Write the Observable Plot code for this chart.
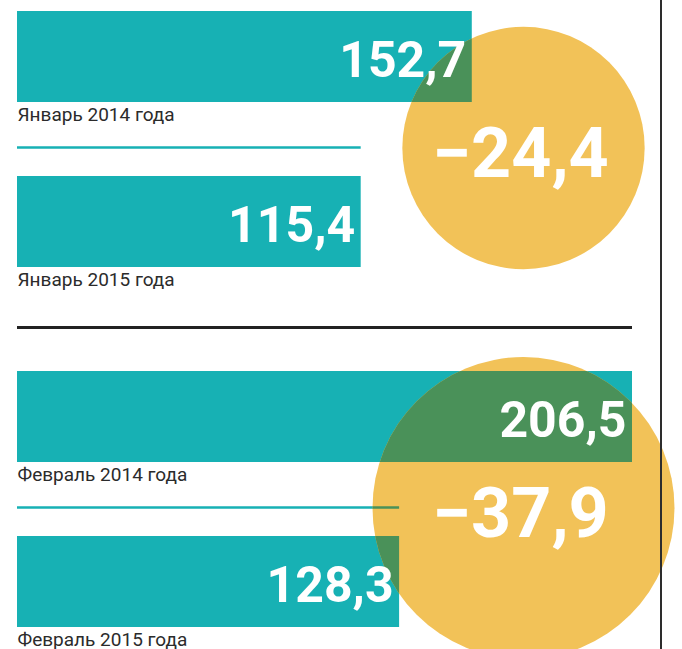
<!DOCTYPE html>
<html>
<head>
<meta charset="utf-8">
<script src="https://cdn.jsdelivr.net/npm/d3@7"></script>
<script src="https://cdn.jsdelivr.net/npm/@observablehq/plot@0.6"></script>
<style>
  html, body { margin: 0; padding: 0; background: #fff; }
  #wrap { position: relative; width: 682px; height: 649px; overflow: hidden; }
  #divider { position: absolute; left: 660px; top: 0; width: 2px; height: 649px; background: #2d2d2d; }
  svg { display: block; }
</style>
</head>
<body>
<div id="wrap"><div id="divider"></div></div>
<script>
// ---- data ----
const months = ["Январь", "Февраль"];
const years = [2014, 2015];
const values2014 = [152.7, 206.5];
const values2015 = [115.4, 128.3];
const changes = [-24.4, -37.9];           // % change, 2015 vs 2014
const labelSuffix = "года";

// ---- table built from the arrays ----
const rows = [];
months.forEach((m, i) => {
  rows.push({month: m, year: 2014, value: values2014[i], change: changes[i]});
  rows.push({month: m, year: 2015, value: values2015[i], change: changes[i]});
});

const fmt = v => String(v).replace(".", ",");
const fmtChange = v => (v < 0 ? "−" : "+") + fmt(Math.abs(v));

const TEAL = "#17b1b4", YELLOW = "#f2c258", GREEN = "#4a9159", INK = "#2b2b2b";
const FONT = "Roboto, 'Liberation Sans', sans-serif";

const sepRule = {filter: d => d.year === 2015, y: "year", x1: 0, x2: "value", strokeWidth: 2.5, dy: -74.5};

const chart = Plot.plot({
  width: 682,
  height: 649,
  marginLeft: 17,
  marginRight: 50,
  marginTop: 10,
  marginBottom: 21,
  style: {background: "transparent", overflow: "visible"},
  x: {domain: [0, d3.max([...values2014, ...values2015])], axis: null},
  y: {domain: years, axis: null, paddingInner: 0.45, paddingOuter: 0},
  fy: {domain: months, axis: null, paddingInner: 0.285, paddingOuter: 0},
  r: {domain: [0, d3.max(changes, Math.abs)], range: [0, 151]},
  facet: {data: rows, y: "month", label: null},
  marks: [
    Plot.barX(rows, {x: "value", y: "year", fill: TEAL}),
    Plot.ruleY(rows, {...sepRule, stroke: TEAL}),
    Plot.dot(rows, {filter: d => d.year === 2015, r: d => Math.abs(d.change), fill: YELLOW, stroke: "none",
                    frameAnchor: "right", dx: -109, dy: 9}),
    // overlap layer (clipped to the circles below)
    Plot.barX(rows, {x: "value", y: "year", fill: GREEN}),
    Plot.ruleY(rows, {...sepRule, stroke: GREEN}),
    Plot.text(rows, {x: "value", y: "year", text: d => fmt(d.value), textAnchor: "end", dx: -6, dy: 4,
                     fill: "white", fontSize: 50, fontWeight: "bold", fontFamily: FONT}),
    Plot.text(rows, {x: 0, y: "year", text: d => `${d.month} ${d.year} ${labelSuffix}`, textAnchor: "start",
                     lineAnchor: "top", dy: 50, fill: INK, fontSize: 19, fontWeight: "normal", fontFamily: FONT}),
    Plot.text(rows, {filter: d => d.year === 2015, text: d => fmtChange(d.change), frameAnchor: "right",
                     textAnchor: "middle", dx: -112, dy: 16, fill: "white", fontSize: 70, fontWeight: "bold",
                     fontFamily: FONT}),
    Plot.ruleY(rows, {filter: d => d.month === months[0] && d.year === 2015, y: "year",
                      stroke: "#222", strokeWidth: 3, dy: 105.5})
  ]
});

// Restrict the green overlap layers (2nd bar group, 2nd rule group) to the inside of the circles.
const ns = "http://www.w3.org/2000/svg";
const defs = document.createElementNS(ns, "defs");
chart.insertBefore(defs, chart.firstChild);
const dotGroup = chart.querySelector(':scope > g[aria-label="dot"]');
const overlapGroups = [
  chart.querySelectorAll(':scope > g[aria-label="bar"]')[1],
  chart.querySelectorAll(':scope > g[aria-label="rule"]')[1]
].filter(Boolean);
let clipId = 0;
if (dotGroup) {
  const dotT = dotGroup.getAttribute("transform") || "";
  const dotFacets = Array.from(dotGroup.children).filter(n => n.tagName.toLowerCase() === "g");
  overlapGroups.forEach(layer => {
    const layerT = layer.getAttribute("transform") || "";
    const inner = document.createElementNS(ns, "g");
    Array.from(layer.children).forEach((gf, i) => {
      const tf = gf.getAttribute("transform") || "";
      const df = dotFacets.find(n => (n.getAttribute("transform") || "") === tf) || dotFacets[i];
      const cp = document.createElementNS(ns, "clipPath");
      const id = "overlap-" + (clipId++);
      cp.setAttribute("id", id);
      cp.setAttribute("clipPathUnits", "userSpaceOnUse");
      if (df) df.querySelectorAll("circle").forEach(c => {
        const cc = c.cloneNode(true);
        // circle position relative to this layer's own offset
        cc.setAttribute("transform", `${dotT} ${invert(layerT)}`.trim());
        cp.appendChild(cc);
      });
      defs.appendChild(cp);
      gf.setAttribute("clip-path", `url(#${id})`);
    });
  });
}
function invert(t) {
  const m = /translate\(\s*([-\d.e]+)[ ,]+([-\d.e]+)\s*\)/.exec(t || "");
  return m ? `translate(${-m[1]},${-m[2]})` : "";
}

document.getElementById("wrap").appendChild(chart);
</script>
</body>
</html>
